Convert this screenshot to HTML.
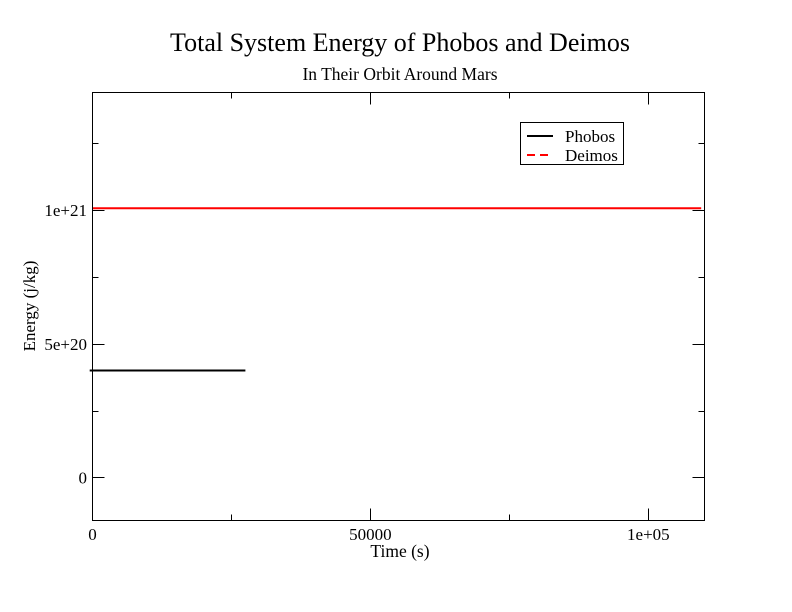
<!DOCTYPE html>
<html><head><meta charset="utf-8"><style>
body{margin:0;background:#fff;}
svg{display:block;font-family:"Liberation Serif",serif;}
</style></head><body>
<svg id="chart" width="792" height="612">
<rect width="792" height="612" fill="#fff"/>
<text x="400" y="51" font-size="26" text-anchor="middle">Total System Energy of Phobos and Deimos</text>
<text x="400" y="80" font-size="17.5" text-anchor="middle">In Their Orbit Around Mars</text>
<text x="400" y="557" font-size="17.5" text-anchor="middle">Time (s)</text>
<text transform="translate(35,306) rotate(-90)" font-size="17" text-anchor="middle">Energy (j/kg)</text>
<g id="marks"></g>
<g id="axes"></g>
<g>
<rect x="520.5" y="122.5" width="103" height="42" fill="#fff" stroke="#000"/>
<line x1="527" y1="136" x2="553" y2="136" stroke="#000" stroke-width="2"/>
<text x="565" y="142" font-size="17">Phobos</text>
<line x1="527" y1="155" x2="553" y2="155" stroke="#f00" stroke-width="2" stroke-dasharray="8,5"/>
<text x="565" y="161" font-size="17">Deimos</text>
</g>
</svg>
<script>
const xTicks=[0,50000,100000];
const xTickLabels=["0","50000","1e+05"];
const yTicks=[0,5e20,1e21];
const yTickLabels=["0","5e+20","1e+21"];
const phobosTime=[-500,27500];
const phobosEnergy=[4.0e20,4.0e20];
const deimosTime=[0,109500];
const deimosEnergy=[1.007e21,1.007e21];

const X0=92.5,X1=704.5,Y0=520.5,Y1=92.5;
const xmin=0,xmax=110100,ymin=-1.61e20,ymax=1.44e21;
const sx=v=>X0+(v-xmin)/(xmax-xmin)*(X1-X0);
const sy=v=>Y0-(v-ymin)/(ymax-ymin)*(Y0-Y1);
const NS="http://www.w3.org/2000/svg";
function mk(tag,attrs,parent){const e=document.createElementNS(NS,tag);for(const k in attrs)e.setAttribute(k,attrs[k]);parent.appendChild(e);return e;}
const axes=document.getElementById('axes'),marks=document.getElementById('marks');

function series(xs,ys,color,name){
  const pts=xs.map((x,i)=>sx(x).toFixed(1)+","+sy(ys[i]).toFixed(1)).join(" ");
  const p=mk('polyline',{points:pts,fill:'none',stroke:color,'stroke-width':2},marks);
  
  
}
series(phobosTime,phobosEnergy,'#000','phobos-line');
series(deimosTime,deimosEnergy,'#f00','deimos-line');

const fr=mk('rect',{x:X0,y:Y1,width:X1-X0,height:Y0-Y1,fill:'none',stroke:'#000','stroke-width':1},axes);



xTicks.forEach((v,i)=>{
  const x=Math.round(sx(v))+0.5;
  if(v>xmin){
  mk('line',{x1:x,y1:Y0,x2:x,y2:Y0-12,stroke:'#000'},axes);
  mk('line',{x1:x,y1:Y1,x2:x,y2:Y1+12,stroke:'#000'},axes);
  }
  if(v+25000<xmax){
  const m=Math.round(sx(v+25000))+0.5;
  mk('line',{x1:m,y1:Y0,x2:m,y2:Y0-6,stroke:'#000'},axes);
  mk('line',{x1:m,y1:Y1,x2:m,y2:Y1+6,stroke:'#000'},axes);
  }
  const t=mk('text',{x:sx(v),y:540,'font-size':17,'text-anchor':'middle'},axes);
  t.textContent=xTickLabels[i];
  
  
});
yTicks.forEach((v,i)=>{
  const y=Math.round(sy(v))+0.5;
  mk('line',{x1:X0,y1:y,x2:X0+12,y2:y,stroke:'#000'},axes);
  mk('line',{x1:X1,y1:y,x2:X1-12,y2:y,stroke:'#000'},axes);
  if(v+2.5e20<ymax){
  const m=Math.round(sy(v+2.5e20))+0.5;
  mk('line',{x1:X0,y1:m,x2:X0+6,y2:m,stroke:'#000'},axes);
  mk('line',{x1:X1,y1:m,x2:X1-6,y2:m,stroke:'#000'},axes);
  }
  const t=mk('text',{x:87,y:sy(v)+6,'font-size':17,'text-anchor':'end'},axes);
  t.textContent=yTickLabels[i];
  
  
});
</script>
</body></html>
